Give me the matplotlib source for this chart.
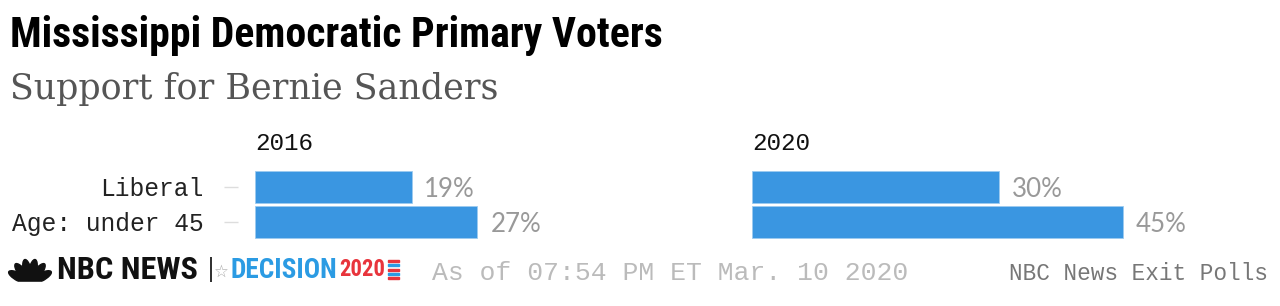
import matplotlib.pyplot as plt
import numpy as np
from matplotlib.patches import Ellipse, Rectangle

# data
categories = ["Liberal", "Age: under 45"]
years = ["2016", "2020"]
support = {
    "2016": [19, 27],
    "2020": [30, 45],
}

BAR = "#3a96e1"
MONO = ["Liberation Mono", "DejaVu Sans Mono"]
COND = ["Roboto Condensed", "Roboto", "DejaVu Sans"]

fig = plt.figure(figsize=(12.8, 3.06), dpi=100)
W, H = 1280, 306
renderer = fig.canvas.get_renderer()


def px_rect(x0, y0, x1, y1):
    # pixel box (from top-left) -> figure fraction
    return [x0 / W, 1 - y1 / H, (x1 - x0) / W, (y1 - y0) / H]


def fit(t, width):
    # scale font so the text spans `width` pixels
    w = t.get_window_extent(renderer).width
    t.set_fontsize(t.get_fontsize() * width / w)
    return t


panel_x = [255, 752]
pct_labels = []
for i, yr in enumerate(years):
    ax = fig.add_axes(px_rect(panel_x[i], 169.5, panel_x[i] + 412, 239.5))
    y = np.arange(len(categories))
    vals = support[yr]
    ax.barh(y, vals, height=0.93, color=BAR, edgecolor="#9ccbf0", linewidth=0.6)
    ax.set_xlim(0, 50)
    ax.set_ylim(len(categories) - 0.5, -0.5)
    for s in ax.spines.values():
        s.set_visible(False)
    ax.set_xticks([])
    if i == 0:
        ax.spines["left"].set_position(("outward", 12))
        ax.set_yticks(y)
        ax.set_yticklabels(categories, family=MONO, fontsize=17.7, color="#222222")
        ax.tick_params(axis="y", length=10, width=1, color="#dddddd", pad=15)
    else:
        ax.set_yticks([])
    for yy, v in zip(y, vals):
        pct_labels.append(ax.text(v + 1.55, yy + 0.07, f"{v}%", va="center", ha="left",
                                  family=["Lato", "DejaVu Sans"], fontsize=18,
                                  color="#999999"))
    ax.text(0, 1.37, yr, transform=ax.transAxes, ha="left", va="center",
            family=MONO, fontsize=17.5, color="#111111")

for t in pct_labels:
    fit(t, 51)

# titles
fit(fig.text(10 / W, 1 - 35 / H, "Mississippi Democratic Primary Voters",
             family=COND, fontweight="bold", fontsize=24, color="#000000",
             va="center", ha="left"), 653)
fit(fig.text(10 / W, 1 - 89 / H, "Support for Bernie Sanders",
             family=["DejaVu Serif"], fontsize=24, color="#555555",
             va="center", ha="left"), 490)

# footer logo
lg = fig.add_axes([0, 0, 1, 1], zorder=-1)
lg.set_xlim(0, W)
lg.set_ylim(H, 0)
lg.axis("off")
cx, cy = 30, 283
for ang in np.linspace(152, 28, 6):
    r = 12
    ex = cx + r * np.cos(np.radians(ang))
    ey = cy - r * np.sin(np.radians(ang))
    lg.add_patch(Ellipse((ex, ey), 24, 8, angle=-ang, color="#111111"))
lg.add_patch(Rectangle((5, 282), 50, 12, color="white", zorder=3))
fit(lg.text(57, 270, "NBC NEWS", family=COND, fontweight="bold", fontsize=20,
            color="#111111", va="center", ha="left"), 141)
lg.text(207, 270, "|", family="DejaVu Sans", fontsize=17, color="#333333",
        va="center", ha="left")
lg.text(214, 272, "\u2606", family="DejaVu Sans", fontsize=12, color="#aaaaaa",
        va="center", ha="left")
fit(lg.text(230, 270, "DECISION", family=COND, fontweight="bold", fontsize=20,
            color="#2b9be3", va="center", ha="left"), 107)
fit(lg.text(339, 270, "2020", family=COND, fontweight="bold", fontsize=20,
            color="#e8343c", va="center", ha="left"), 46)
for k in range(5):
    lg.add_patch(Rectangle((388, 260 + k * 4.3), 11, 2,
                           color="#e8343c" if k % 2 == 0 else "#2b9be3"))

fig.text(432 / W, 1 - 273 / H, "As of 07:54 PM ET Mar. 10 2020", family=MONO,
         fontsize=19, color="#bbbbbb", va="center", ha="left")
fig.text(1268 / W, 1 - 273 / H, "NBC News Exit Polls", family=MONO,
         fontsize=16.4, color="#777777", va="center", ha="right")

fig.savefig("out.png", dpi=100, facecolor="white")
